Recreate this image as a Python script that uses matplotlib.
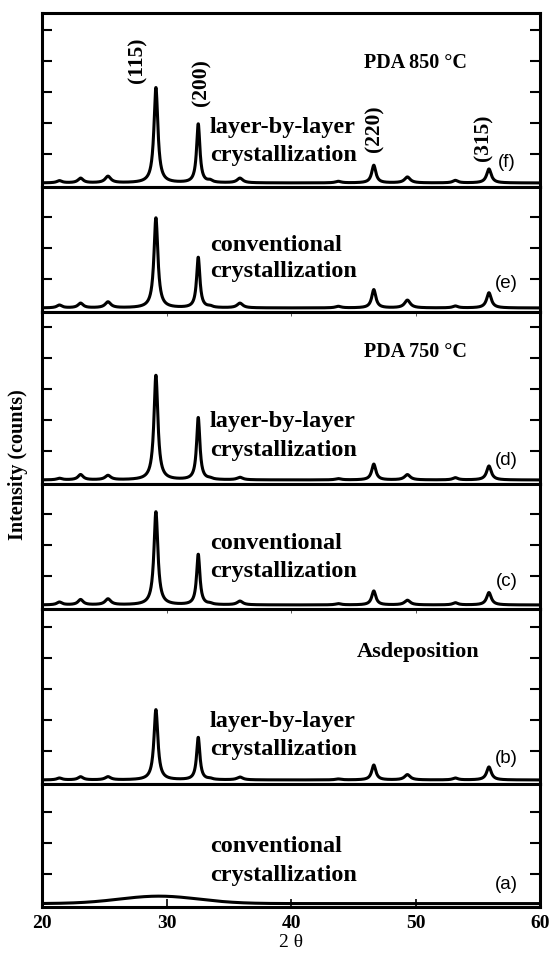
import numpy as np
import matplotlib
matplotlib.use("Agg")
import matplotlib.pyplot as plt

# ---- diffraction data: peak positions (2-theta, deg) and amplitudes per sample ----
peak_pos = [21.4, 23.1, 25.3, 29.15, 32.55, 33.5, 35.9, 43.8, 46.65, 49.35, 53.2, 55.9]
peak_fwhm = [0.5, 0.5, 0.55, 0.38, 0.32, 0.45, 0.55, 0.55, 0.4, 0.55, 0.5, 0.45]

amp_f = [0.07, 0.15, 0.21, 3.08, 1.90, 0.06, 0.15, 0.05, 0.57, 0.19, 0.08, 0.45]
amp_e = [0.09, 0.15, 0.19, 2.91, 1.63, 0.04, 0.15, 0.05, 0.59, 0.25, 0.06, 0.49]
amp_d = [0.05, 0.17, 0.14, 3.38, 2.01, 0.03, 0.08, 0.04, 0.51, 0.17, 0.07, 0.45]
amp_c = [0.09, 0.17, 0.19, 3.01, 1.63, 0.03, 0.12, 0.04, 0.45, 0.15, 0.07, 0.40]
amp_b = [0.06, 0.10, 0.10, 2.27, 1.37, 0.03, 0.09, 0.03, 0.48, 0.17, 0.06, 0.42]

# amorphous hump of the as-deposited conventional film (a)
hump_center = 29.4
hump_fwhm = 7.5
hump_amp = 0.24

baseline = 0.07

panel_ids = ["(f)", "(e)", "(d)", "(c)", "(b)", "(a)"]
panel_text = ["layer-by-layer\ncrystallization", "conventional\ncrystallization",
              "layer-by-layer\ncrystallization", "conventional\ncrystallization",
              "layer-by-layer\ncrystallization", "conventional\ncrystallization"]
group_titles = {0: "PDA 850 °C", 2: "PDA 750 °C", 4: "Asdeposition"}

miller_labels = ["(115)", "(200)", "(220)", "(315)"]
miller_x = [27.7, 32.8, 46.7, 55.5]
miller_y = [3.30, 2.55, 1.06, 0.77]

x_ticks = [20, 30, 40, 50, 60]

# ---- profile construction ----
two_theta = np.arange(20.0, 60.0001, 0.02)


def pattern(amps):
    y = np.full_like(two_theta, baseline)
    for p, w, a in zip(peak_pos, peak_fwhm, amps):
        hw = w / 2.0
        y += a * hw ** 2 / ((two_theta - p) ** 2 + hw ** 2)
    return y


def amorphous():
    sig = hump_fwhm / 2.3548
    return 0.05 + hump_amp * np.exp(-0.5 * ((two_theta - hump_center) / sig) ** 2)


curves = [pattern(amp_f), pattern(amp_e), pattern(amp_d),
          pattern(amp_c), pattern(amp_b), amorphous()]

# ---- layout ----
W, H = 555, 958
fig = plt.figure(figsize=(W / 100, H / 100), dpi=100)
left_px, right_px = 42, 540
panel_px = [(13, 187), (187, 312), (312, 484), (484, 609), (609, 784), (784, 907)]
unit_px = 31.0
y0 = -0.06

serif = "Liberation Serif"
sans = "Liberation Sans"

text_y = [(1.85, 0.94), (2.10, 1.24), (1.94, 1.02), (2.06, 1.15), (1.96, 1.04), (1.88, 0.97)]
id_y = [0.72, 0.86, 0.70, 0.83, 0.77, 0.65]
title_xy = {0: (45.9, 3.95, 14.5), 2: (45.9, 4.19, 14.5), 4: (45.3, 4.20, 16)}

for i, ((top, bot), y) in enumerate(zip(panel_px, curves)):
    ax = fig.add_axes([left_px / W, 1 - bot / H, (right_px - left_px) / W, (bot - top) / H])
    ymax = y0 + (bot - top) / unit_px
    ax.plot(two_theta, y, color="black", lw=2.2, solid_joinstyle="round")
    ax.set_xlim(20, 60)
    ax.set_ylim(y0, ymax)
    for s in ax.spines.values():
        s.set_linewidth(2.2)
    ax.set_yticks([t for t in range(1, 6) if t < ymax - 0.15])
    ax.tick_params(axis="y", which="both", direction="in", left=True, right=True,
                   labelleft=False, length=7, width=1.5)
    ax.set_xticks(x_ticks)
    if i == 5:
        ax.tick_params(axis="x", direction="in", bottom=True, top=False, length=6,
                       width=1.2, labelbottom=True, pad=6)
        ax.set_xticklabels([str(t) for t in x_ticks], fontfamily=serif,
                           fontweight="bold", fontsize=14)
        ax.set_xlabel("2 θ", fontfamily=serif, fontsize=14, labelpad=1)
    elif i in (2, 4):
        ax.tick_params(axis="x", direction="in", bottom=False, top=True, length=3,
                       width=0.7, color="0.35", labelbottom=False)
    else:
        ax.tick_params(axis="x", bottom=False, top=False, labelbottom=False)

    l1, l2 = panel_text[i].split("\n")
    ax.text(33.5, text_y[i][0], l1, fontfamily=serif, fontweight="bold",
            fontsize=17.5, ha="left", va="center")
    ax.text(33.5, text_y[i][1], l2, fontfamily=serif, fontweight="bold",
            fontsize=17.5, ha="left", va="center")
    ax.text(57.3, id_y[i], panel_ids[i], fontfamily=sans, fontsize=13.5,
            ha="center", va="center")
    if i in group_titles:
        tx, ty, fs = title_xy[i]
        ax.text(tx, ty, group_titles[i], fontfamily=serif, fontweight="bold",
                fontsize=fs, ha="left", va="center")
    if i == 0:
        for lab, mx, my in zip(miller_labels, miller_x, miller_y):
            ax.text(mx, my, lab, rotation=90, fontfamily=serif, fontweight="bold",
                    fontsize=15.5, ha="center", va="bottom")

fig.text(18 / W, 1 - 465 / H, "Intensity (counts)", rotation=90, fontfamily=serif,
         fontweight="bold", fontsize=14.5, ha="center", va="center")

fig.savefig("out.png", dpi=100)
